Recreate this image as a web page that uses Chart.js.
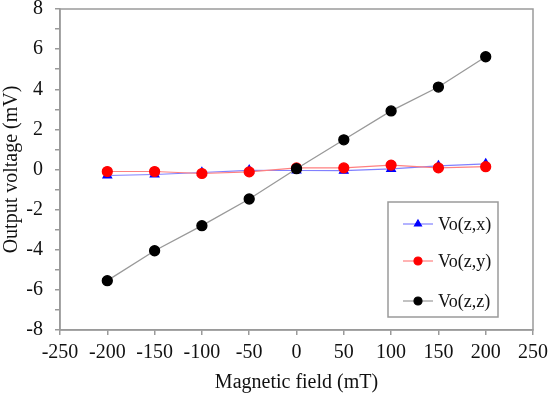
<!DOCTYPE html>
<html>
<head>
<meta charset="utf-8">
<script src="https://cdn.jsdelivr.net/npm/chart.js@4/dist/chart.umd.min.js"></script>
<style>
html,body{margin:0;padding:0;background:#fff;}
#wrap{width:550px;height:395px;position:relative;}
</style>
</head>
<body>
<div id="wrap"><canvas id="c" width="550" height="395"></canvas></div>
<script>
const fieldMT = [-200, -150, -100, -50, 0, 50, 100, 150, 200];
const voZX = [-0.30, -0.25, -0.15, -0.04, -0.05, -0.06, 0.03, 0.18, 0.28];
const voZY = [-0.10, -0.10, -0.20, -0.12, 0.08, 0.08, 0.22, 0.08, 0.14];
const voZZ = [-5.54, -4.05, -2.80, -1.47, 0.04, 1.48, 2.92, 4.11, 5.62];
const seriesNames = ['Vo(z,x)', 'Vo(z,y)', 'Vo(z,z)'];
const yTickLabels = [-8, -6, -4, -2, 0, 2, 4, 6, 8];

const SERIF = '"Liberation Serif", "Times New Roman", serif';
const axisGray = '#9a9a9a';

function pts(vals){ return fieldMT.map((x,i)=>({x:x, y:vals[i]})); }

const frame = {
  id:'frame',
  afterDatasetsDraw(chart){
    const a = chart.chartArea, ctx = chart.ctx;
    ctx.save();
    ctx.strokeStyle = axisGray; ctx.lineWidth = 1.5;
    ctx.strokeRect(a.left, a.top, a.right - a.left, a.bottom - a.top);
    ctx.restore();
  },
  afterDraw(chart){
    const a = chart.chartArea, ctx = chart.ctx;
    const bx = a.right - 145, by = a.top + 193, bw = 110, bh = 115;
    ctx.save();
    ctx.fillStyle = '#fff';
    ctx.fillRect(bx, by, bw, bh);
    ctx.strokeStyle = axisGray; ctx.lineWidth = 1.5;
    ctx.strokeRect(bx, by, bw, bh);
    const rows = [22, 59, 99];
    chart.data.datasets.forEach((ds, i) => {
      const y = by + rows[i];
      ctx.strokeStyle = ds.borderColor; ctx.lineWidth = 1.2;
      ctx.beginPath(); ctx.moveTo(bx + 15, y); ctx.lineTo(bx + 45, y); ctx.stroke();
      ctx.fillStyle = ds.pointBackgroundColor; ctx.strokeStyle = ds.pointBorderColor;
      Chart.helpers.drawPoint(ctx, {pointStyle: ds.pointStyle, rotation: 0, radius: 4, borderWidth: 1}, bx + 30, y);
      ctx.fillStyle = '#111';
      ctx.font = '18px ' + SERIF;
      ctx.textBaseline = 'middle'; ctx.textAlign = 'left';
      ctx.fillText(seriesNames[i], bx + 50, y + 1);
    });
    ctx.restore();
  }
};

new Chart(document.getElementById('c'), {
  type: 'scatter',
  data: {
    datasets: [
      {label: seriesNames[0], data: pts(voZX), showLine: true, borderColor: '#8080ff', borderWidth: 1.2,
       pointStyle: 'triangle', pointRadius: 5, pointBackgroundColor: '#0000ff', pointBorderColor: '#0000ff', order: 2},
      {label: seriesNames[1], data: pts(voZY), showLine: true, borderColor: '#ff8080', borderWidth: 1.2,
       pointStyle: 'circle', pointRadius: 5, pointBackgroundColor: '#ff0000', pointBorderColor: '#ff0000', order: 1},
      {label: seriesNames[2], data: pts(voZZ), showLine: true, borderColor: '#999999', borderWidth: 1.3,
       pointStyle: 'circle', pointRadius: 5, pointBackgroundColor: '#000000', pointBorderColor: '#000000', order: 0}
    ]
  },
  options: {
    responsive: false,
    animation: false,
    events: [],
    layout: {padding: {left: 0, right: 17, top: 9, bottom: 0}},
    plugins: {legend: {display: false}, tooltip: {enabled: false}},
    scales: {
      x: {
        type: 'linear', min: -250, max: 250,
        ticks: {stepSize: 50, color: '#111', font: {family: SERIF, size: 20}, padding: 6, maxRotation: 0, autoSkip: false},
        grid: {drawOnChartArea: false, drawTicks: true, tickLength: 5, color: axisGray, lineWidth: 1.5},
        border: {color: axisGray, width: 1.5},
        title: {display: true, text: 'Magnetic field (mT)', color: '#111', font: {family: SERIF, size: 20}, padding: {top: 0, bottom: 0}},
        afterFit(s){ s.height = 65; s.paddingLeft = 0; s.paddingRight = 0; }
      },
      y: {
        type: 'linear', min: -8, max: 8,
        ticks: {stepSize: 1, color: '#111', font: {family: SERIF, size: 20}, padding: 12, autoSkip: false,
          callback: v => (yTickLabels.includes(v) ? String(v) : '')},
        grid: {drawOnChartArea: false, drawTicks: true, tickLength: 5, color: axisGray, lineWidth: 1.5},
        border: {color: axisGray, width: 1.5},
        title: {display: true, text: 'Output voltage (mV)', color: '#111', font: {family: SERIF, size: 20}, padding: {top: 0, bottom: 0}},
        afterFit(s){ s.width = 60; s.paddingTop = 0; s.paddingBottom = 0; }
      }
    }
  },
  plugins: [frame]
});
</script>
</body>
</html>
